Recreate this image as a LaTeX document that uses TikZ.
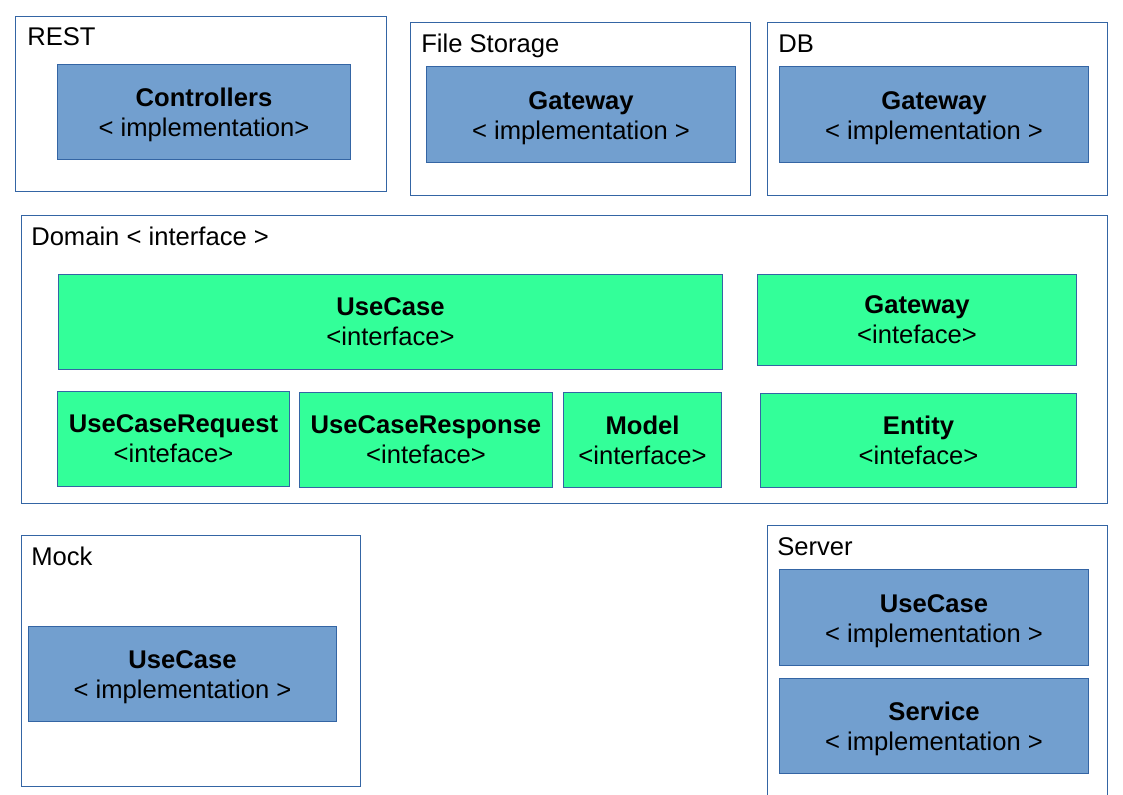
\documentclass[tikz,border=0pt]{standalone}
\usepackage{fontspec}
\setmainfont{Liberation Sans}
\usepackage{tikz}
\usetikzlibrary{positioning}

\definecolor{framecol}{HTML}{3465A4}
\definecolor{implcol}{HTML}{729FCF}
\definecolor{ifacecol}{HTML}{33FF99}
\def\px{0.75pt}
% bold head of an implementation box, a little lower
\newcommand\implhead[1]{\rule{0pt}{18.4pt}\textbf{#1}}

\tikzset{
  layer/.style={draw=framecol, line width=\px, anchor=north west, inner sep=0pt},
  title/.style={anchor=base west, inner sep=0pt},
  impl/.style={layer, fill=implcol, align=center},
  iface/.style={layer, fill=ifacecol, align=center}
}

\begin{document}
\begin{tikzpicture}[x=\px, y=-\px, font=\fontsize{19.2pt}{22.5pt}\selectfont]
    \useasboundingbox (0,0) rectangle (1123,794);

    % outer layers
    \node [layer, minimum width=371*\px, minimum height=175*\px] (rest) at (15,16) {};
    \node [layer, minimum width=340*\px, minimum height=173*\px] (storage) at (410,22) {};
    \node [layer, minimum width=340*\px, minimum height=173*\px] (db) at (767,22) {};
    \node [layer, minimum width=1086*\px, minimum height=288*\px] (domain) at (21,215) {};
    \node [layer, minimum width=339*\px, minimum height=251*\px] (mock) at (21,535) {};
    \node [layer, minimum width=340*\px, minimum height=280*\px] (server) at (767,525) {};

    \node [title] (resttitle) at ([xshift=12*\px, yshift=-29*\px]rest.north west) {REST};
    \node [title] (storagetitle) at ([xshift=11*\px, yshift=-30*\px]storage.north west) {File Storage};
    \node [title] (dbtitle) at ([xshift=11*\px, yshift=-30*\px]db.north west) {DB};
    \node [title] (domaintitle) at ([xshift=10*\px, yshift=-30*\px]domain.north west) {Domain < interface >};
    \node [title] (mocktitle) at ([xshift=10*\px, yshift=-30*\px]mock.north west) {Mock};
    \node [title] (servertitle) at ([xshift=10*\px, yshift=-30*\px]server.north west) {Server};

    % implementations
    \node [impl, minimum width=293*\px, minimum height=95*\px] (controllers) at (57,64) {\implhead{Controllers}\\< implementation>};
    \node [impl, minimum width=309*\px, minimum height=96*\px] (storagegw) at (426,66) {\implhead{Gateway}\\< implementation >};
    \node [impl, minimum width=309*\px, minimum height=96*\px] (dbgw) at (779,66) {\implhead{Gateway}\\< implementation >};
    \node [impl, minimum width=308*\px, minimum height=95*\px] (mockusecase) at (28,626) {\implhead{UseCase}\\< implementation >};
    \node [impl, minimum width=309*\px, minimum height=96*\px] (serverusecase) at (779,569) {\implhead{UseCase}\\< implementation >};
    \node [impl, minimum width=309*\px, minimum height=95*\px] (service) at (779,678) {\implhead{Service}\\< implementation >};

    % interfaces
    \node [iface, minimum width=664*\px, minimum height=95*\px] (usecase) at (58,274) {\textbf{UseCase}\\<interface>};
    \node [iface, minimum width=319*\px, minimum height=91*\px] (gateway) at (757,274) {\textbf{Gateway}\\<inteface>};
    \node [iface, minimum width=232*\px, minimum height=95*\px] (request) at (57,391) {\textbf{UseCaseRequest}\\<inteface>};
    \node [iface, minimum width=253*\px, minimum height=95*\px] (response) at (299,392) {\textbf{UseCaseResponse}\\<inteface>};
    \node [iface, minimum width=158*\px, minimum height=95*\px] (model) at (563,392) {\textbf{Model}\\<interface>};
    \node [iface, minimum width=316*\px, minimum height=94*\px] (entity) at (760,393) {\textbf{Entity}\\<inteface>};
\end{tikzpicture}
\end{document}
